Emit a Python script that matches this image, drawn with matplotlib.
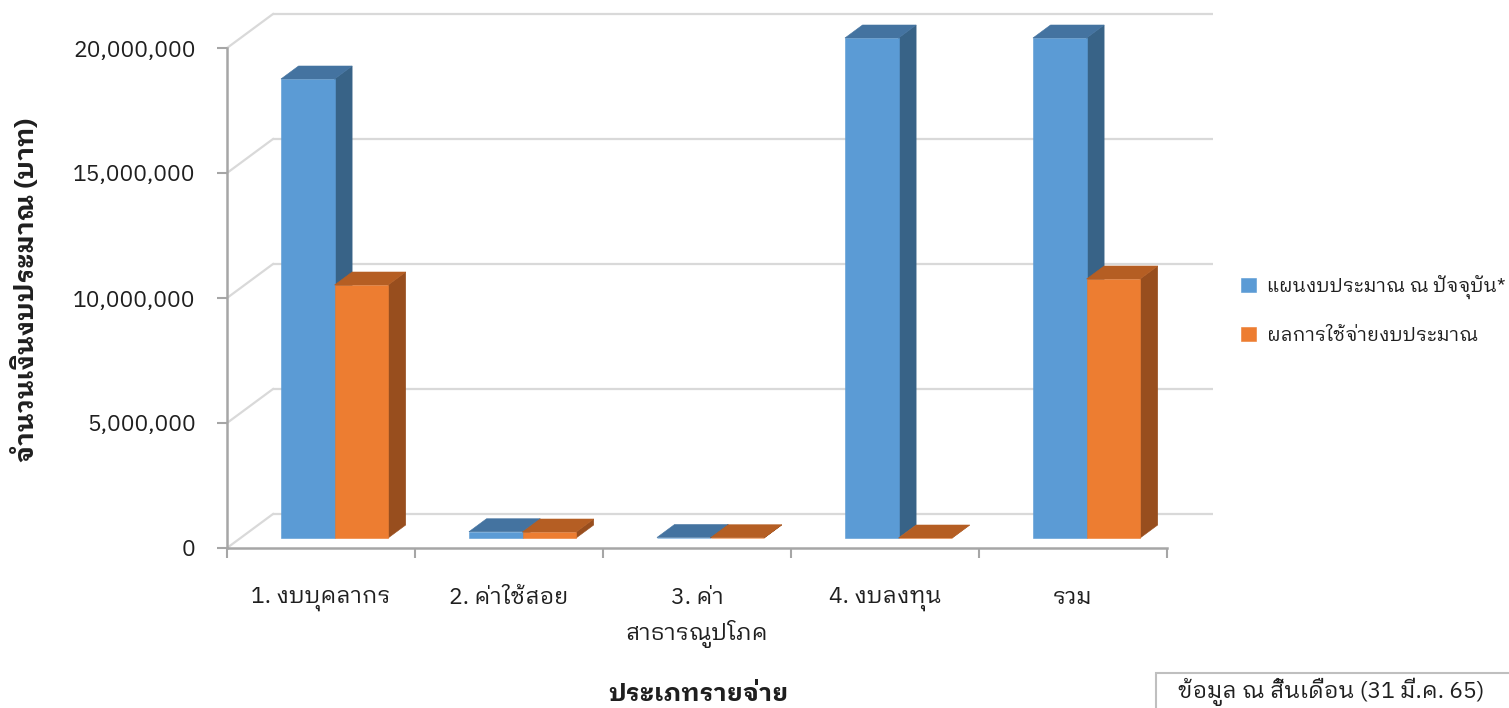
import matplotlib
matplotlib.use("Agg")
import matplotlib.pyplot as plt
from matplotlib.patches import Polygon, Rectangle
from matplotlib import font_manager
from matplotlib.ticker import FuncFormatter
from fontTools.ttLib import TTFont

categories = ["1. งบบุคลากร", "2. ค่าใช้สอย", "3. ค่า\nสาธารณูปโภค", "4. งบลงทุน", "รวม"]
plan = [18_360_000, 250_000, 20_000, 20_000_000, 20_000_000]
spent = [10_120_000, 240_000, 10_000, 0, 10_360_000]
series_names = ["แผนงบประมาณ ณ ปัจจุบัน*", "ผลการใช้จ่ายงบประมาณ"]
y_ticks = [0, 5_000_000, 10_000_000, 15_000_000, 20_000_000]
y_title = "จำนวนเงินงบประมาณ (บาท)"
x_title = "ประเภทรายจ่าย"
note = "ข้อมูล ณ สิ้นเดือน (31 มี.ค. 65)"


def thai_families():
    found = []
    for f in font_manager.fontManager.ttflist:
        try:
            cmap = TTFont(f.fname, fontNumber=0, lazy=True).getBestCmap() or {}
        except Exception:
            continue
        if 0x0E01 in cmap and f.name not in found:
            found.append(f.name)
    return found


# need a font with Thai glyphs, looped style like the original
thai = thai_families()
pick = None
for key in ["IBM Plex Sans Thai Looped", "Looped", "Tahoma", "Leelawadee",
            "Noto Sans Thai", "Loma", "Garuda", "Sarabun"]:
    for name in thai:
        if key in name:
            pick = name
            break
    if pick:
        break
if pick is None and thai:
    pick = thai[0]
plt.rcParams["font.family"] = ([pick] if pick else []) + ["DejaVu Sans"]

# colours (front, top, side)
blue = ("#5B9BD5", "#4473A0", "#386387")
orange = ("#ED7D31", "#B55E23", "#984E1E")
grid_c = "#D9D9D9"
axis_c = "#A6A6A6"
text_c = "#1f1f1f"

W, H = 1509, 708
fig = plt.figure(figsize=(W / 100, H / 100), dpi=100)
ax = fig.add_axes([227 / W, 1 - 548 / H, (1167 - 227) / W, 500 / H])
ax.set_xlim(-0.5, 4.5)
ax.set_ylim(0, 20_000_000)
ax.patch.set_visible(False)

# oblique depth: full depth shifts by DX categories and DY value units
DX = 46 / 188
DY = 34 * 20_000_000 / 500
d0, d1 = 10 / 34, 23 / 34
w = 0.285


def P(x, y, d):
    return (x + d * DX, y + d * DY)


# back wall and side wall grid
for v in y_ticks:
    ax.plot(*zip(P(-0.5, v, 1), P(4.5, v, 1)), color=grid_c, lw=1.6,
            clip_on=False, zorder=1, solid_capstyle="butt")
    ax.plot(*zip(P(-0.5, v, 0), P(-0.5, v, 1)), color=grid_c, lw=1.6,
            clip_on=False, zorder=1)

for i in range(len(categories)):
    for j, (vals, cols) in enumerate([(plan, blue), (spent, orange)]):
        v = vals[i]
        x0 = i + (j - 1) * w
        x1 = x0 + w
        front = [P(x0, 0, d0), P(x1, 0, d0), P(x1, v, d0), P(x0, v, d0)]
        top = [P(x0, v, d0), P(x1, v, d0), P(x1, v, d1), P(x0, v, d1)]
        side = [P(x1, 0, d0), P(x1, 0, d1), P(x1, v, d1), P(x1, v, d0)]
        lab = series_names[j] if i == 0 else None
        ax.add_patch(Polygon(side, closed=True, fc=cols[2], ec=cols[2], lw=0.4,
                             clip_on=False, zorder=3))
        ax.add_patch(Polygon(front, closed=True, fc=cols[0], ec=cols[0], lw=0.4,
                             clip_on=False, zorder=3, label=lab))
        ax.add_patch(Polygon(top, closed=True, fc=cols[1], ec=cols[1], lw=0.4,
                             clip_on=False, zorder=3))

for s in ["top", "right"]:
    ax.spines[s].set_visible(False)
for s in ["left", "bottom"]:
    ax.spines[s].set_color(axis_c)
    ax.spines[s].set_linewidth(1.8)

ax.set_yticks(y_ticks)
ax.yaxis.set_major_formatter(FuncFormatter(lambda v, p: f"{v:,.0f}"))
ax.tick_params(axis="y", length=7.5, width=1.5, color=axis_c, labelsize=16.5,
               labelcolor=text_c, pad=15)
ax.set_xticks(range(len(categories)))
ax.set_xticklabels(categories, linespacing=1.55, va="top")
ax.set_xticks([k - 0.5 for k in range(len(categories) + 1)], minor=True)
ax.tick_params(axis="x", which="major", length=0, labelsize=16.5,
               labelcolor=text_c, pad=28)
ax.tick_params(axis="x", which="minor", length=7.5, width=1.5, color=axis_c)

fig.text(25 / W, 1 - 290 / H, y_title, rotation=90, ha="center", va="center",
         fontsize=19, fontweight="bold", color=text_c)
fig.text(698 / W, 1 - 694 / H, x_title, ha="center", va="center",
         fontsize=18, fontweight="bold", color=text_c)

fig.legend(loc="center left", bbox_to_anchor=(1224 / W, 1 - 310 / H),
           frameon=False, fontsize=13.8, handlelength=0.75, handleheight=0.75,
           handletextpad=0.6, labelspacing=1.45, labelcolor=text_c)

fig.add_artist(Rectangle((1156 / W, -0.1), 0.3, 0.1 + (708 - 673) / H,
                         transform=fig.transFigure, fill=False, ec="#BFBFBF",
                         lw=1.5, clip_on=False))
fig.text(1178 / W, 1 - 698 / H, note, ha="left", va="baseline", fontsize=16.5,
         color=text_c)

fig.savefig("out.png", dpi=100)
